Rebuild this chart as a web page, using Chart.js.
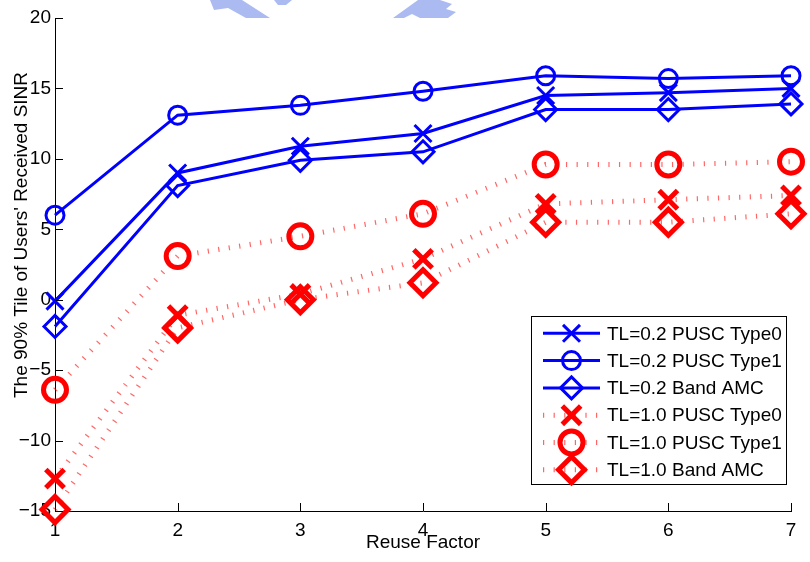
<!DOCTYPE html>
<html>
<head>
<meta charset="utf-8">
<script src="https://cdn.jsdelivr.net/npm/chart.js@4.4.1/dist/chart.umd.min.js"></script>
<style>
  html, body { margin:0; padding:0; background:#fff; }
  #wrap { width:810px; height:562px; }
</style>
</head>
<body>
<div id="wrap"><canvas id="sinr" width="810" height="562"></canvas></div>
<script>
const reuseFactor = [1, 2, 3, 4, 5, 6, 7];
const yTicks      = [-15, -10, -5, 0, 5, 10, 15, 20];

// 90% tile SINR per reuse factor
const tl02Type0 = [-0.1,  9.0, 10.9, 11.8, 14.5, 14.7, 15.0];
const tl02Type1 = [ 6.0, 13.1, 13.8, 14.8, 15.9, 15.7, 15.9];
const tl02Band  = [-1.9,  8.1,  9.9, 10.5, 13.5, 13.5, 13.9];
const tl10Type0 = [-12.7, -1.1, 0.4,  2.9,  6.8,  7.1,  7.4];
const tl10Type1 = [ -6.4,  3.1, 4.5,  6.1,  9.6,  9.6,  9.8];
const tl10Band  = [-14.9, -2.0, 0.0,  1.2,  5.5,  5.5,  6.1];

const seriesNames = [
  'TL=0.2 PUSC Type0', 'TL=0.2 PUSC Type1', 'TL=0.2 Band AMC',
  'TL=1.0 PUSC Type0', 'TL=1.0 PUSC Type1', 'TL=1.0 Band AMC'
];

const FONT = "'Liberation Sans', Arial, Helvetica, sans-serif";
const FSIZE = 19;
const BLUE = '#0000ff', RED = '#ff0000', RED_DOT = 'rgba(255,0,0,0.6)';

const pts = vals => reuseFactor.map((x, i) => ({ x, y: vals[i] }));

function solid(label, vals, style, r) {
  return { label, data: pts(vals), borderColor: BLUE, borderWidth: 3,
    pointStyle: style, pointRadius: r, pointHoverRadius: r,
    pointBorderColor: BLUE, pointBorderWidth: 3, pointBackgroundColor: 'rgba(0,0,0,0)',
    tension: 0, clip: false };
}
function dotted(label, vals, style, r) {
  return { label, data: pts(vals), borderColor: RED_DOT, borderWidth: 5, borderDash: [1.2, 9.4],
    pointStyle: style, pointRadius: r, pointHoverRadius: r,
    pointBorderColor: RED, pointBorderWidth: 5, pointBackgroundColor: 'rgba(0,0,0,0)',
    tension: 0, clip: false };
}

const datasets = [
  solid(seriesNames[0], tl02Type0, 'crossRot', 12),
  solid(seriesNames[1], tl02Type1, 'circle', 9),
  solid(seriesNames[2], tl02Band, 'rectRot', 11),
  dotted(seriesNames[3], tl10Type0, 'crossRot', 13),
  dotted(seriesNames[4], tl10Type1, 'circle', 11.5),
  dotted(seriesNames[5], tl10Band, 'rectRot', 13),
];

const minus = v => v < 0 ? '\u2212' + Math.abs(v) : String(v);

// faint logo strip along the top edge
const backdrop = {
  id: 'backdrop',
  beforeDraw(chart) {
    const c = chart.ctx;
    c.save();
    c.fillStyle = 'rgb(172,186,242)';
    const polys = [
      [[210,0],[242,0],[270,18],[246,18],[228,8],[214,10]],
      [[274,0],[292,0],[286,5],[278,5]],
      [[393,18],[418,0],[440,0],[452,4],[446,9],[456,12],[448,18],[420,18],[412,14],[404,18]],
    ];
    polys.forEach(p => {
      c.beginPath();
      p.forEach(([x, y], i) => i ? c.lineTo(x, y) : c.moveTo(x, y));
      c.closePath();
      c.fill();
    });
    c.restore();
  }
};

// inward ticks, axis titles and the boxed legend
const frame = {
  id: 'frame',
  afterDraw(chart) {
    const c = chart.ctx, a = chart.chartArea;
    const xs = chart.scales.x, ys = chart.scales.y;
    c.save();
    c.strokeStyle = '#000';
    c.lineWidth = 1;
    c.beginPath();
    yTicks.forEach(v => {
      const py = Math.round(ys.getPixelForValue(v)) + 0.5;
      c.moveTo(a.left, py); c.lineTo(a.left + 8, py);
    });
    reuseFactor.forEach(v => {
      const px = Math.round(xs.getPixelForValue(v)) + 0.5;
      c.moveTo(px, a.bottom); c.lineTo(px, a.bottom - 8);
    });
    c.stroke();

    c.fillStyle = '#000';
    c.font = FSIZE + 'px ' + FONT;
    c.textAlign = 'center';
    c.textBaseline = 'middle';
    c.fillText('Reuse Factor', (a.left + a.right) / 2, 543);
    c.save();
    c.translate(22, 235);
    c.rotate(-Math.PI / 2);
    c.fillText("The 90% Tile of Users' Received SINR", 0, 0);
    c.restore();

    // legend
    const bx = 531.5, by = 316.5, bw = 255, bh = 168, rowH = 27.3, y0 = 333.3;
    c.fillStyle = '#fff';
    c.fillRect(bx, by, bw, bh);
    c.strokeRect(bx, by, bw, bh);
    chart.data.datasets.forEach((ds, i) => {
      const ly = y0 + i * rowH;
      c.save();
      c.strokeStyle = ds.borderColor;
      c.lineWidth = ds.borderWidth;
      c.setLineDash(ds.borderDash || []);
      c.beginPath(); c.moveTo(543, ly); c.lineTo(600, ly); c.stroke();
      c.setLineDash([]);
      c.strokeStyle = ds.pointBorderColor;
      c.fillStyle = 'rgba(0,0,0,0)';
      c.lineWidth = ds.pointBorderWidth;
      Chart.helpers.drawPoint(c, { pointStyle: ds.pointStyle, radius: ds.pointRadius,
        rotation: 0, borderWidth: ds.pointBorderWidth }, 571.5, ly);
      c.restore();
      c.fillStyle = '#000';
      c.font = FSIZE + 'px ' + FONT;
      c.textAlign = 'left';
      c.textBaseline = 'middle';
      c.fillText(ds.label, 607, ly + 1);
    });
    c.restore();
  }
};

new Chart(document.getElementById('sinr'), {
  type: 'line',
  data: { datasets },
  options: {
    responsive: false,
    animation: false,
    events: [],
    layout: { padding: { top: 18, right: 19, left: 0, bottom: 0 } },
    plugins: { legend: { display: false }, tooltip: { enabled: false } },
    scales: {
      x: {
        type: 'linear', min: 1, max: 7,
        afterFit: s => { s.height = 51; },
        afterBuildTicks: s => { s.ticks = reuseFactor.map(value => ({ value })); },
        grid: { display: false, drawTicks: false },
        border: { display: true, color: '#000', width: 1 },
        ticks: { color: '#000', font: { family: FONT, size: FSIZE }, padding: 8, maxRotation: 0 }
      },
      y: {
        min: -15, max: 20,
        afterFit: s => { s.width = 55; },
        afterBuildTicks: s => { s.ticks = yTicks.map(value => ({ value })); },
        grid: { display: false, drawTicks: false },
        border: { display: true, color: '#000', width: 1 },
        ticks: { color: '#000', font: { family: FONT, size: FSIZE }, padding: 4, callback: minus }
      }
    }
  },
  plugins: [backdrop, frame]
});
</script>
</body>
</html>
